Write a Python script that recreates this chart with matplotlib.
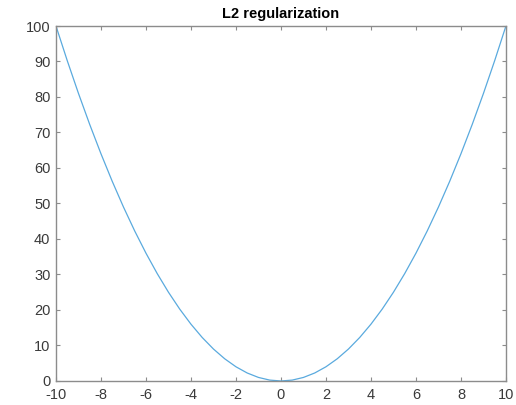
import matplotlib
matplotlib.use("Agg")
import matplotlib.pyplot as plt

# values
x_vals = [-10, -9.5, -9, -8.5, -8, -7.5, -7, -6.5, -6, -5.5, -5, -4.5, -4, -3.5, -3, -2.5, -2, -1.5, -1, -0.5,
          0, 0.5, 1, 1.5, 2, 2.5, 3, 3.5, 4, 4.5, 5, 5.5, 6, 6.5, 7, 7.5, 8, 8.5, 9, 9.5, 10]
y_vals = [100, 90.25, 81, 72.25, 64, 56.25, 49, 42.25, 36, 30.25, 25, 20.25, 16, 12.25, 9, 6.25, 4, 2.25, 1, 0.25,
          0, 0.25, 1, 2.25, 4, 6.25, 9, 12.25, 16, 20.25, 25, 30.25, 36, 42.25, 49, 56.25, 64, 72.25, 81, 90.25, 100]
x_ticks = [-10, -8, -6, -4, -2, 0, 2, 4, 6, 8, 10]
y_ticks = [0, 10, 20, 30, 40, 50, 60, 70, 80, 90, 100]

plt.rcParams['font.family'] = ['Liberation Sans', 'DejaVu Sans']

fig = plt.figure(figsize=(5.16, 4.05), dpi=100)
ax = fig.add_axes([0.1085, 0.0593, 0.872, 0.8765])
ax.plot(x_vals, y_vals, color='#5aaade', lw=0.9)
ax.set_xlim(-10, 10)
ax.set_ylim(0, 100)
ax.set_xticks(x_ticks)
ax.set_yticks(y_ticks)
ax.set_xticklabels([str(t) for t in x_ticks])
gray = '#8c8c8c'
for s in ax.spines.values():
    s.set_color(gray)
    s.set_linewidth(1.0)
ax.tick_params(direction='in', length=3, width=0.8, color=gray, labelsize=10.5, labelcolor='#3a3a3a',
               top=True, right=True)
ax.tick_params(axis='x', pad=5)
ax.tick_params(axis='y', pad=4)
ax.set_title('L2 regularization', fontsize=10.5, fontweight='bold', pad=6)

fig.savefig("out.png", dpi=100)
